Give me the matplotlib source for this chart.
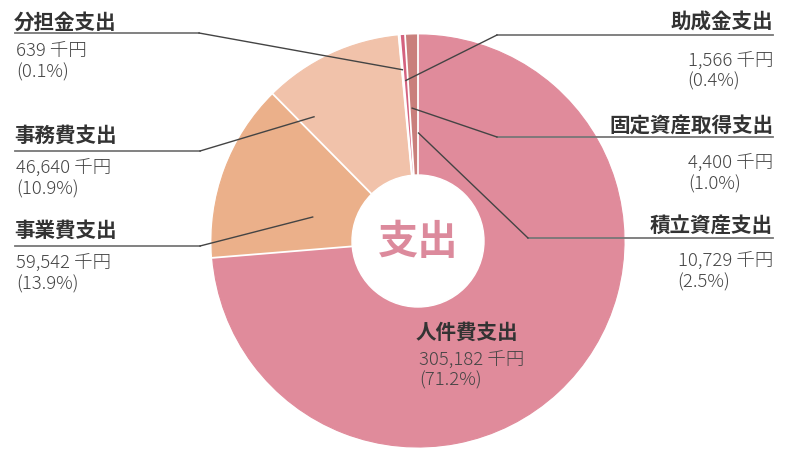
import numpy as np
import matplotlib
matplotlib.use("Agg")
import matplotlib.pyplot as plt
from matplotlib.patches import Circle

plt.rcParams['font.family'] = ['Noto Sans CJK JP', 'DejaVu Sans']

# ---- data (clockwise from 12 o'clock) ----
categories = ["積立資産支出", "人件費支出", "事業費支出", "事務費支出", "分担金支出", "助成金支出", "固定資産取得支出"]
amounts = [10729, 305182, 59542, 46640, 639, 1566, 4400]
percents = [2.5, 71.2, 13.9, 10.9, 0.1, 0.4, 1.0]
amount_labels = ["10,729 千円", "305,182 千円", "59,542 千円", "46,640 千円", "639 千円", "1,566 千円", "4,400 千円"]
percent_labels = ["(2.5%)", "(71.2%)", "(13.9%)", "(10.9%)", "(0.1%)", "(0.4%)", "(1.0%)"]
center_label = "支出"

colors = ["#E08B9B", "#E08B9B", "#EBB08A", "#F1C2AA", "#FFFFFF", "#D4627F", "#C97F7C"]

W, H = 795, 453
fig = plt.figure(figsize=(W / 100, H / 100), dpi=100)
ax = fig.add_axes([0, 0, 1, 1])

def Y(y):
    return H - y

cx, cy, R, r_in = 418, Y(241), 206, 66

wedges, _ = ax.pie(percents, colors=colors, startangle=90, counterclock=False,
                   center=(cx, cy), radius=R, wedgeprops=dict(linewidth=0.8))
for w, c in zip(wedges, colors):
    w.set_edgecolor(c)
ax.set_xlim(0, W)
ax.set_ylim(0, H)
ax.set_aspect('equal')
ax.axis('off')

# white separators between slices (skip 積立/人件費 boundary, same colour)
fr = np.cumsum([0] + percents) / sum(percents)
for i, f in enumerate(fr[:-1]):
    if i == 1:
        continue
    a = np.deg2rad(90 - 360 * f)
    ax.plot([cx + r_in * np.cos(a), cx + (R + 1) * np.cos(a)],
            [cy + r_in * np.sin(a), cy + (R + 1) * np.sin(a)], color="white", lw=1.3, zorder=3)

ax.add_patch(Circle((cx, cy), r_in, color="white", zorder=4))
ax.text(cx, Y(243), center_label, ha="center", va="center", fontsize=29,
        fontweight="bold", color="#DC8A9C", zorder=5)

def anchor(i, t, rr):
    f = fr[i] + t * (fr[i + 1] - fr[i])
    a = np.deg2rad(90 - 360 * f)
    return cx + rr * np.cos(a), cy + rr * np.sin(a)

head_kw = dict(fontsize=14.8, fontweight="bold", color="#333333", va="center")
val_kw = dict(fontsize=13.3, fontweight="light", color="#444444", va="center", linespacing=1.2)
line_c = "#444444"
under_c = "#777777"

# left labels: (index, heading y, underline y, underline end x, anchor t, anchor r, value block y)
left = [(4, 22, 33, 199, 0.5, 172, 62), (3, 135, 151, 200, 0.12, 162, 178.5), (2, 230, 246, 200, 0.35, 108, 273.5)]
for i, hy, uy, ux, t, rr, vy in left:
    ax.text(14, Y(hy), categories[i], ha="left", **head_kw)
    ax.plot([15, ux], [Y(uy), Y(uy)], color=under_c, lw=1.3, zorder=6)
    px, py = anchor(i, t, rr)
    ax.plot([ux, px], [Y(uy), py], color=line_c, lw=1.0, zorder=6)
    ax.text(16, Y(vy), amount_labels[i] + "\n" + percent_labels[i],
            ha="left", multialignment="left", **val_kw)

# right labels
right = [(5, 22, 35, 497, 0.5, 161, 71), (6, 125, 137, 497, 0.3, 133, 173.5), (0, 225, 238, 528, 0.03, 108, 271.5)]
for i, hy, uy, ux, t, rr, vy in right:
    ax.text(773, Y(hy), categories[i], ha="right", **head_kw)
    ax.plot([ux, 773], [Y(uy), Y(uy)], color=under_c, lw=1.3, zorder=6)
    px, py = anchor(i, t, rr)
    ax.plot([ux, px], [Y(uy), py], color=line_c, lw=1.0, zorder=6)
    ax.text(773, Y(vy), amount_labels[i] + "\n" + percent_labels[i],
            ha="right", multialignment="left", **val_kw)

# main slice label
ax.text(416, Y(332), categories[1], ha="left", **head_kw)
ax.text(419, Y(370), amount_labels[1] + "\n" + percent_labels[1],
        ha="left", multialignment="left", **val_kw)

fig.savefig("out.png", dpi=100)
